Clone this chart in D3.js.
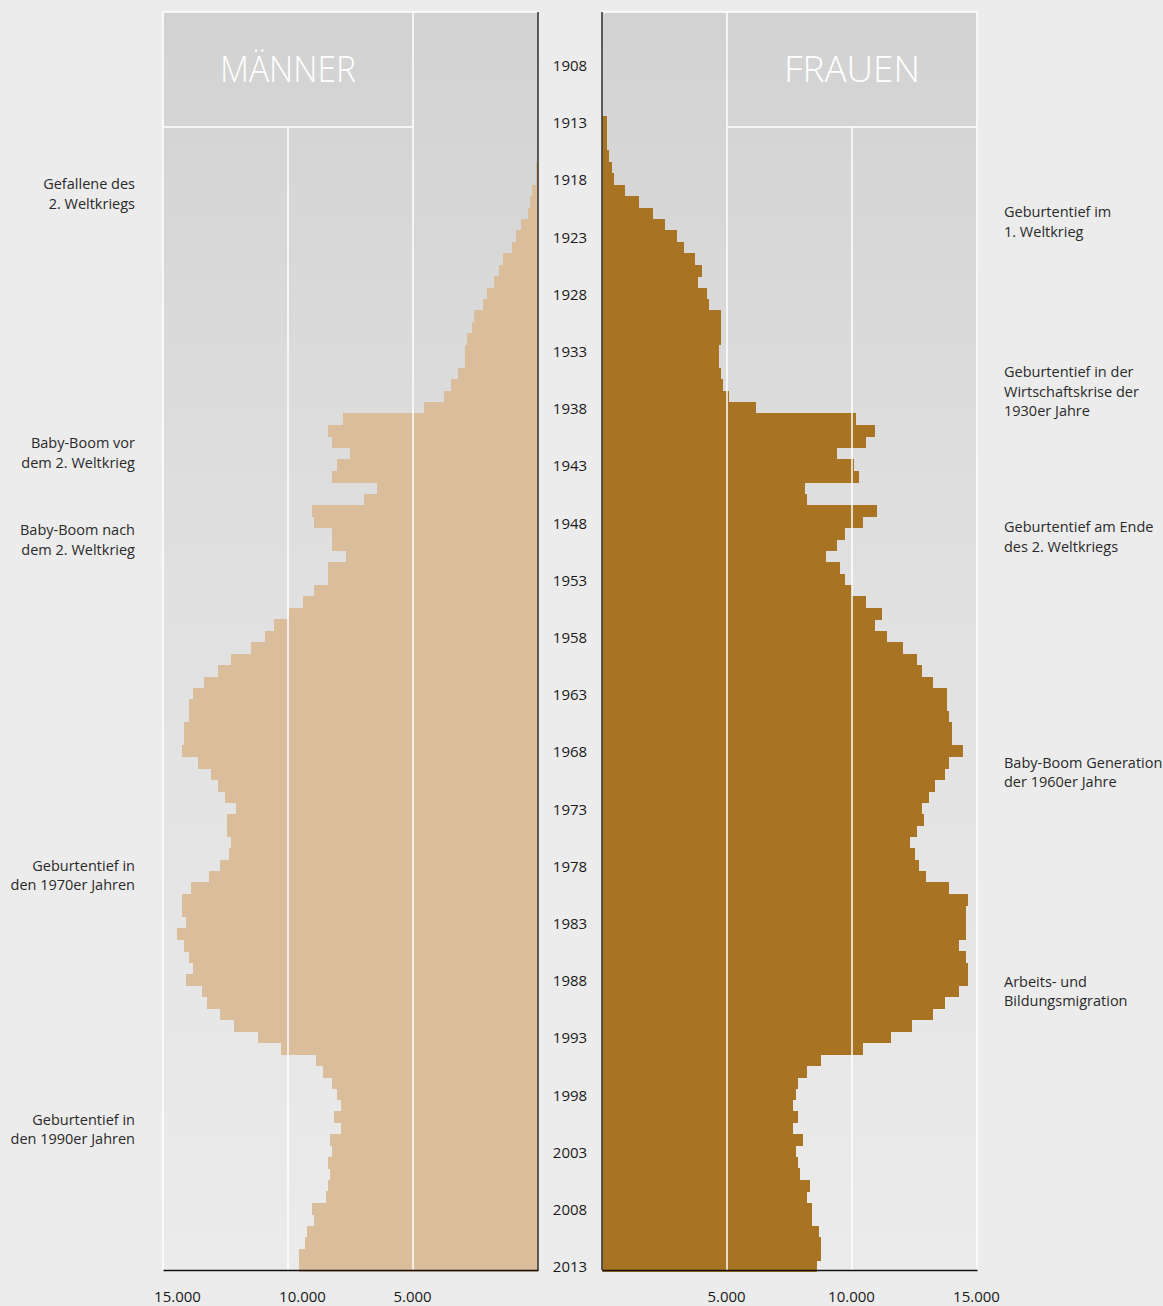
<!DOCTYPE html>
<html>
<head>
<meta charset="utf-8">
<script src="https://cdn.jsdelivr.net/npm/d3@7"></script>
<style>
  body { margin: 0; background: #ececec; }
  svg { display: block; font-family: 'Open Sans', sans-serif; }
</style>
</head>
<body>
<script>
const firstYear = 1913
const lastYear = 2013

const maenner = [
  50, 55, 60, 60, 70, 80, 240, 320, 415, 680,
  870, 1040, 1400, 1575, 1760, 2030, 2215, 2575, 2655, 2840,
  2920, 2920, 3200, 3470, 3750, 4550, 7790, 8400, 8230, 7510,
  8050, 8230, 6430, 6970, 9050, 8960, 8230, 8230, 7700, 8420,
  8420, 8960, 9410, 9970, 10570, 10920, 11470, 12270, 12815, 13350,
  13790, 13975, 13975, 14150, 14150, 14240, 13615, 13080, 12800, 12535,
  12080, 12440, 12440, 12270, 12350, 12710, 13160, 13880, 14240, 14240,
  14070, 14430, 14160, 13975, 13800, 14070, 13430, 13255, 12710, 12175,
  11190, 10295, 8870, 8590, 8230, 8055, 7870, 8150, 7870, 8310,
  8230, 8400, 8320, 8400, 8495, 9030, 8950, 9230, 9310, 9575,
  9575
]

const frauen = [
  190, 190, 190, 270, 400, 460, 930, 1490, 2050, 2520,
  2990, 3270, 3730, 4010, 3830, 4200, 4290, 4760, 4760, 4760,
  4670, 4670, 4760, 4850, 5090, 6160, 10160, 10920, 10550, 9410,
  10070, 10270, 8120, 8210, 11010, 10450, 9710, 9410, 8960, 9520,
  9710, 9990, 10550, 11200, 10920, 11390, 12040, 12600, 12790, 13250,
  13810, 13810, 13890, 13990, 13990, 14450, 13890, 13720, 13330, 13070,
  12790, 12870, 12600, 12320, 12510, 12690, 12970, 13890, 14650, 14560,
  14560, 14560, 14280, 14560, 14650, 14650, 14280, 13720, 13250, 12410,
  11570, 10450, 8770, 8210, 7840, 7750, 7650, 7840, 7650, 8030,
  7750, 7840, 7930, 8310, 8210, 8400, 8400, 8680, 8770, 8770,
  8590
]

const yearTicks = [1908, 1913, 1918, 1923, 1928, 1933, 1938, 1943, 1948, 1953, 1958,
  1963, 1968, 1973, 1978, 1983, 1988, 1993, 1998, 2003, 2008, 2013]

const valueTicks = [5000, 10000, 15000]

const notesLeft = [
  { year: 1918.45, lines: ['Gefallene des', '2. Weltkriegs'] },
  { year: 1941.1, lines: ['Baby-Boom vor', 'dem 2. Weltkrieg'] },
  { year: 1948.7, lines: ['Baby-Boom nach', 'dem 2. Weltkrieg'] },
  { year: 1978.05, lines: ['Geburtentief in', 'den 1970er Jahren'] },
  { year: 2000.25, lines: ['Geburtentief in', 'den 1990er Jahren'] },
]

const notesRight = [
  { year: 1920.9, lines: ['Geburtentief im', '1. Weltkrieg'] },
  { year: 1934.9, lines: ['Geburtentief in der', 'Wirtschaftskrise der', '1930er Jahre'] },
  { year: 1948.45, lines: ['Geburtentief am Ende', 'des 2. Weltkriegs'] },
  { year: 1969.05, lines: ['Baby-Boom Generation', 'der 1960er Jahre'] },
  { year: 1988.2, lines: ['Arbeits- und', 'Bildungsmigration'] },
]

const width = 1163,
  height = 1306,
  plotTop = 12,
  plotBottom = 1270,
  headerBottom = 127

const years = d3.range(firstYear, lastYear + 1)
const maleData = years.map((year, i) => ({ year, value: maenner[i] }))
const femaleData = years.map((year, i) => ({ year, value: frauen[i] }))

const de = d3.formatLocale({ decimal: ',', thousands: '.', grouping: [3], currency: ['', ' €'] })

const y = d3.scaleBand()
  .domain(d3.range(1908, lastYear + 1))
  .range([58.8, 1271.4])

const yNote = d3.scaleLinear()
  .domain([1908, lastYear])
  .range([y(1908) + y.bandwidth() / 2, y(lastYear) + y.bandwidth() / 2])

const xM = d3.scaleLinear().domain([0, 15000]).range([538, 163])
const xF = d3.scaleLinear().domain([0, 15000]).range([602, 977])

const svg = d3.select('body')
  .append('svg')
  .attr('width', width)
  .attr('height', height)

const grad = svg.append('defs')
  .append('linearGradient')
  .attr('id', 'panel-grad')
  .attr('x1', 0).attr('y1', 0).attr('x2', 0).attr('y2', 1)
grad.append('stop').attr('offset', 0).attr('stop-color', '#d1d2d1')
grad.append('stop').attr('offset', 0.45).attr('stop-color', '#dfe0df')
grad.append('stop').attr('offset', 1).attr('stop-color', '#ebebeb')

const panels = [
  { x: xM, title: 'MÄNNER', data: maleData, color: '#dabd9a' },
  { x: xF, title: 'FRAUEN', data: femaleData, color: '#a87423' },
]

panels.forEach(p => {
  const x0 = p.x(0), x15 = p.x(15000)
  const g = svg.append('g')

  g.append('rect')
    .attr('x', Math.min(x0, x15))
    .attr('y', plotTop)
    .attr('width', Math.abs(x15 - x0))
    .attr('height', plotBottom - plotTop)
    .attr('fill', 'url(#panel-grad)')

  g.append('g')
    .attr('shape-rendering', 'crispEdges')
    .selectAll('.bar')
    .data(p.data)
    .enter().append('rect')
    .attr('class', 'bar')
    .attr('x', d => Math.min(p.x(0), p.x(d.value)))
    .attr('width', d => Math.abs(p.x(d.value) - p.x(0)))
    .attr('y', d => y(d.year))
    .attr('height', y.bandwidth() + 0.6)
    .attr('fill', p.color)

  // grid lines sit on top of the bars
  g.selectAll('.grid')
    .data(valueTicks)
    .enter().append('line')
    .attr('x1', d => p.x(d))
    .attr('x2', d => p.x(d))
    .attr('y1', d => d === 10000 ? headerBottom : plotTop)
    .attr('y2', plotBottom)
    .attr('stroke', '#fff')
    .attr('stroke-width', 1.5)

  g.append('line')
    .attr('x1', x0).attr('x2', x15)
    .attr('y1', plotTop).attr('y2', plotTop)
    .attr('stroke', '#fff').attr('stroke-width', 1.5)

  g.append('line')
    .attr('x1', p.x(5000)).attr('x2', x15)
    .attr('y1', headerBottom).attr('y2', headerBottom)
    .attr('stroke', '#fff').attr('stroke-width', 1.5)

  g.append('text')
    .attr('x', p.x(10000))
    .attr('y', 81.5)
    .attr('text-anchor', 'middle')
    .attr('fill', '#fff')
    .attr('font-size', '36px')
    .attr('font-weight', 300)
    .attr('textLength', 136)
    .attr('lengthAdjust', 'spacingAndGlyphs')
    .text(p.title)

  g.append('line')
    .attr('x1', x0).attr('x2', x0)
    .attr('y1', plotTop).attr('y2', plotBottom)
    .attr('stroke', '#3a3a3a').attr('stroke-width', 1.6)

  const axis = d3.axisBottom(p.x)
    .tickValues(valueTicks)
    .tickFormat(de.format(','))
    .tickSize(0)
    .tickSizeOuter(0)
    .tickPadding(21)

  const ax = g.append('g')
    .attr('transform', `translate(0, ${plotBottom})`)
    .call(axis)
  ax.select('.domain').attr('stroke', '#111').attr('stroke-width', 1.6)
  ax.selectAll('text')
    .attr('font-family', "'Open Sans', sans-serif")
    .attr('font-size', '15px')
    .attr('fill', '#1a1a1a')
    .attr('dx', d => (p.title === 'MÄNNER' && d > 5000) ? 14 : -1)
})

svg.append('g')
  .selectAll('text')
  .data(yearTicks)
  .enter().append('text')
  .attr('x', 570)
  .attr('y', d => y(d) + y.bandwidth() / 2 + 6.5)
  .attr('text-anchor', 'middle')
  .attr('font-size', '15px')
  .attr('fill', '#1a1a1a')
  .text(d => d)

function drawNotes(notes, x, anchor) {
  const g = svg.append('g')
    .attr('font-size', '14.5px')
    .attr('fill', '#2a2a2a')
    .attr('text-anchor', anchor)
  notes.forEach(n => {
    const t = g.append('text')
      .attr('x', x)
      .attr('y', yNote(n.year) + 5)
    n.lines.forEach((line, i) => {
      t.append('tspan')
        .attr('x', x)
        .attr('dy', i === 0 ? 0 : 19.5)
        .text(line)
    })
  })
}

drawNotes(notesLeft, 135, 'end')
drawNotes(notesRight, 1004, 'start')
</script>
</body>
</html>
